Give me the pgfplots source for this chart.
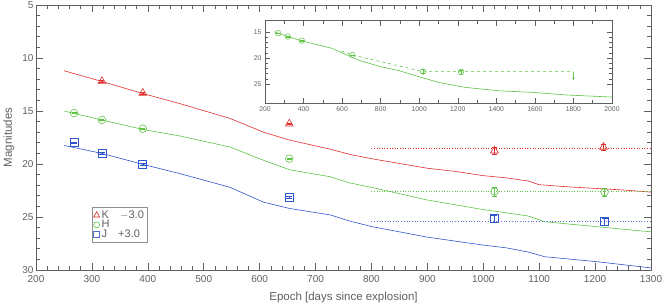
\documentclass[border=0pt]{standalone}
\usepackage{fontspec}
\setmainfont{Liberation Sans}
\usepackage{pgfplots}
\pgfplotsset{compat=1.18}
\usetikzlibrary{arrows.meta}
\definecolor{cK}{RGB}{222,45,45}
\definecolor{cH}{RGB}{95,195,70}
\definecolor{cJ}{RGB}{45,85,205}
\definecolor{ax}{RGB}{95,95,95}
\begin{document}
\begin{tikzpicture}
\begin{axis}[
  at={(0,0)}, anchor=south west,
  scale only axis, width=615pt, height=265pt,
  xmin=200, xmax=1300, ymin=5, ymax=30, y dir=reverse,
  xtick distance=100, minor x tick num=4,
  ytick distance=5, minor y tick num=4,
  tick align=inside, major tick length=7pt, minor tick length=4pt,
  axis line style={ax, line width=0.8pt},
  every tick/.style={ax, line width=0.6pt},
  tick label style={font=\fontsize{10}{11}\selectfont, text=ax},
  yticklabel style={xshift=1pt},
  xticklabel style={yshift=-1.5pt},
  /pgf/number format/assume math mode=true,
  /pgf/number format/1000 sep={},
  xlabel={Epoch [days since explosion]}, ylabel={Magnitudes},
  label style={font=\fontsize{11.5}{13}\selectfont, text=ax},
  xlabel style={at={(axis description cs:0.5,-0.102)}, anchor=center},
  ylabel style={at={(axis description cs:-0.044,0.5)}, anchor=center},
  legend style={at={(axis description cs:0.091,0.238)}, anchor=north west,
    draw=ax!70, font=\fontsize{11}{11}\selectfont, text=ax, inner sep=1.5pt,
    row sep=-3.5pt, legend cell align=left},
  legend image code/.code={\draw[#1] plot coordinates {(0.15cm,0cm)};},
]
\addlegendimage{only marks, mark=triangle, mark size=3.5pt, draw=cK, mark options={draw=cK, line width=0.6pt}}
\addlegendentry{K\quad$-$3.0}
\addlegendimage{only marks, mark=o, mark size=3pt, draw=cH, mark options={draw=cH, line width=0.6pt}}
\addlegendentry{H}
\addlegendimage{only marks, mark=square, mark size=3pt, draw=cJ, mark options={draw=cJ!85!white, line width=0.55pt}}
\addlegendentry{J\quad+3.0}

% model curves
\addplot[cK, line width=0.6pt, forget plot] coordinates {
(250,11.2)(317,12.2)(391,13.35)(457,14.3)(547,15.7)(607,17.0)(654,17.75)(726,18.6)
(762,19.1)(800,19.5)(850,19.95)(900,20.4)(950,20.7)(1000,21.1)(1040,21.3)
(1080,21.6)(1100,21.95)(1150,22.15)(1200,22.3)(1250,22.45)(1300,22.65)};
\addplot[cH, line width=0.6pt, forget plot] coordinates {
(250,15.0)(318,15.85)(392,16.75)(457,17.35)(547,18.4)(607,19.65)(654,20.55)(726,21.2)
(762,21.8)(800,22.2)(900,23.4)(1000,24.3)(1040,24.6)(1080,24.9)(1110,25.45)
(1200,25.9)(1300,26.4)};
\addplot[cJ, line width=0.6pt, forget plot] coordinates {
(250,18.25)(318,19.0)(392,20.05)(457,20.9)(547,22.2)(607,23.6)(654,24.2)(726,24.8)
(762,25.4)(800,25.9)(900,26.9)(1000,27.65)(1040,27.9)(1080,28.3)(1110,28.75)
(1200,29.2)(1300,29.8)};

% limits (dotted)
\addplot[cK, dotted, line width=0.6pt, forget plot] coordinates {(800,18.55)(1300,18.55)};
\addplot[cH, dotted, line width=0.6pt, forget plot] coordinates {(800,22.6)(1300,22.6)};
\addplot[cJ!80, dotted, line width=0.7pt, forget plot] coordinates {(800,25.4)(1300,25.4)};

% observations
\addplot[only marks, mark=triangle, mark size=4.5pt, cK, line width=0.6pt, forget plot,
  error bars/.cd, y dir=both, y explicit, error bar style={line width=0.5pt}, error mark options={rotate=90, mark size=2.5pt}]
 coordinates {(318,12.2)+-(0,0.08) (391,13.3)+-(0,0.08) (653,16.2)+-(0,0.08) (1020,18.75)+-(0,0.3) (1215,18.4)+-(0,0.3)};
\addplot[only marks, mark=o, mark size=3.8pt, cH, line width=0.6pt, forget plot,
  error bars/.cd, y dir=both, y explicit, error bar style={line width=0.5pt}, error mark options={rotate=90, mark size=2.5pt}]
 coordinates {(268,15.2)+-(0,0.05) (318,15.85)+-(0,0.05) (391,16.67)+-(0,0.05) (653,19.5)+-(0,0.05) (1020,22.6)+-(0,0.4) (1217,22.65)+-(0,0.4)};
\addplot[only marks, mark=square, mark size=4pt, cJ, line width=0.6pt, forget plot,
  error bars/.cd, y dir=both, y explicit, error bar style={line width=0.5pt}, error mark options={rotate=90, mark size=3pt}]
 coordinates {(268,18.0)+-(0,0.08) (318,18.95)+-(0,0.08) (391,20.0)+-(0,0.08) (653,23.1)+-(0,0.1) (1020,25.15)+-(0,0.3) (1217,25.45)+-(0,0.3)};
\end{axis}

\begin{axis}[
  at={(229pt,166.7pt)}, anchor=south west,
  scale only axis, width=347pt, height=82.6pt,
  xmin=200, xmax=2000, ymin=12.8, ymax=28.7, y dir=reverse,
  xtick distance=200, minor x tick num=1,
  ytick={15,20,25}, minor y tick num=4,
  axis background/.style={fill=white},
  tick align=inside, major tick length=5pt, minor tick length=3pt,
  axis line style={ax, line width=0.6pt},
  every tick/.style={ax, line width=0.5pt},
  tick label style={font=\fontsize{6.8}{7}\selectfont, text=ax},
  /pgf/number format/assume math mode=true,
  /pgf/number format/1000 sep={},
]
\addplot[cH, line width=0.6pt] coordinates {
(250,14.9)(268,15.2)(318,15.85)(391,16.7)(546,18.1)(600,19.0)(685,20.4)(805,21.7)(894,22.4)
(1000,23.6)(1103,24.7)(1242,25.65)(1416,26.3)(1590,26.6)(1764,27.1)(2000,27.5)};
\addplot[cH, dashed, line width=0.6pt] coordinates {
(598,18.65)(653,19.4)(1020,22.6)(1217,22.6)(1800,22.6)};
\addplot[cH, line width=0.5pt, -{Stealth[length=3pt,width=2.5pt]}] coordinates {(1800,22.6)(1800,24.3)};
\addplot[only marks, mark=o, mark size=2.8pt, cH, line width=0.5pt,
  error bars/.cd, y dir=both, y explicit, error bar style={line width=0.5pt}, error mark options={rotate=90, mark size=2pt}]
 coordinates {(268,15.2)+-(0,0.05) (318,15.85)+-(0,0.05) (391,16.65)+-(0,0.05) (653,19.4)+-(0,0.05) (1020,22.6)+-(0,0.4) (1217,22.65)+-(0,0.4)};
\end{axis}
\pgfresetboundingbox
\path (-36pt,-37pt) rectangle (629pt,270pt);
\end{tikzpicture}
\end{document}
